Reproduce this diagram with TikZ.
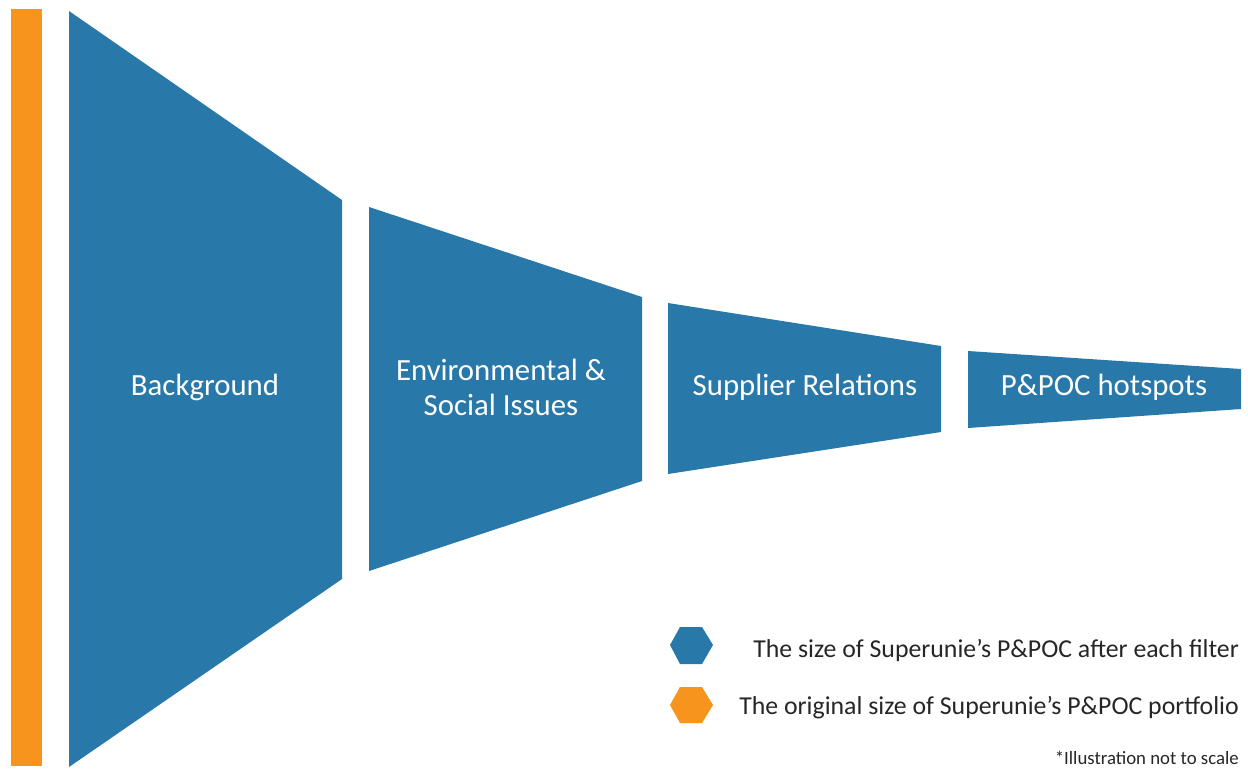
\documentclass[tikz,border=0pt]{standalone}
\usepackage{fontspec}
\setmainfont{Carlito}
\definecolor{filterblue}{HTML}{2878A9}
\definecolor{origorange}{HTML}{F7941D}
\begin{document}
\begin{tikzpicture}[x=1pt,y=-1pt,
  stagelabel/.style={text=white,font=\fontsize{30.8}{35}\selectfont,align=center},
  legendtext/.style={text=black!85,font=\fontsize{25.8}{30}\selectfont,anchor=base east,inner sep=0pt},
  notetext/.style={text=black!85,font=\fontsize{18.8}{22}\selectfont,anchor=base east,inner sep=0pt}]
  \useasboundingbox (0,0) rectangle (1248,769);
  % original portfolio
  \fill[origorange] (11,9) rectangle (42,766);
  % filter stages, each one narrower than the last
  \fill[filterblue] (69,11) -- (342,200) -- (342,579) -- (69,767) -- cycle;
  \fill[filterblue] (369,207) -- (642,297) -- (642,481) -- (369,571) -- cycle;
  \fill[filterblue] (668,303) -- (941,346) -- (941,432) -- (668,474) -- cycle;
  \fill[filterblue] (968,351) -- (1241,369) -- (1241,409) -- (968,428) -- cycle;
  \node[stagelabel] (bg) at (205,387) {Background};
  \node[stagelabel] (env) at (501,387) {Environmental \&\\Social Issues};
  \node[stagelabel] (sup) at (805,387) {Supplier Relations};
  \node[stagelabel] (hot) at (1104,387) {P\&POC hotspots};
  % legend
  \fill[filterblue] (670,645) -- (680,627) -- (702,627) -- (713,645) -- (702,664) -- (680,664) -- cycle;
  \fill[origorange] (670,705) -- (680,687) -- (702,687) -- (713,705) -- (702,723) -- (680,723) -- cycle;
  \node[legendtext] (leg1) at (1239,657) {The size of Superunie’s P\&POC after each filter};
  \node[legendtext] (leg2) at (1239,714) {The original size of Superunie’s P\&POC portfolio};
  \node[notetext] (note) at (1239,764) {*Illustration not to scale};
\end{tikzpicture}
\end{document}
